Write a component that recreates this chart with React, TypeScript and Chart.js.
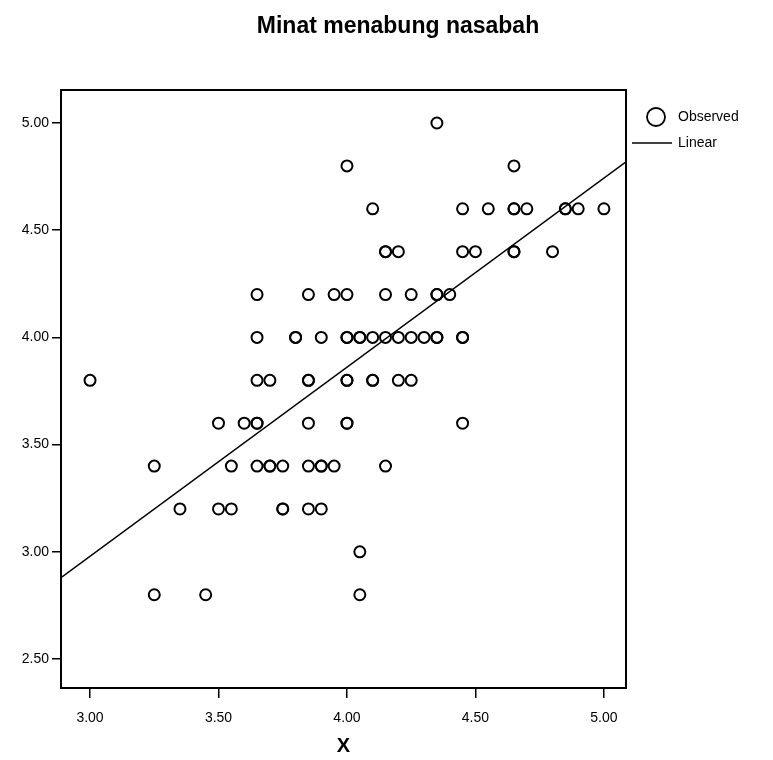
import React, { useEffect, useRef } from "react";
import { Chart, registerables } from "chart.js";

Chart.register(...registerables);

const chartTitle = "Minat menabung nasabah";
const xAxisTitle = "X";
const legendLabels = ["Observed", "Linear"];

// Observed points (x, y); duplicates for overlapping (bold) marks
const observedX = [
  4.35,
  4.0, 4.65,
  4.1, 4.45, 4.55, 4.65, 4.65, 4.7, 4.85, 4.85, 4.9, 5.0,
  4.15, 4.15, 4.2, 4.45, 4.5, 4.65, 4.65, 4.8,
  3.65, 3.85, 3.95, 4.0, 4.15, 4.25, 4.35, 4.35, 4.4,
  3.65, 3.8, 3.8, 3.9, 4.0, 4.0, 4.05, 4.05, 4.1, 4.15, 4.2, 4.25, 4.3, 4.35, 4.35, 4.45, 4.45,
  3.0, 3.65, 3.7, 3.85, 3.85, 4.0, 4.0, 4.1, 4.1, 4.2, 4.25,
  3.5, 3.6, 3.65, 3.65, 3.85, 4.0, 4.0, 4.45,
  3.25, 3.55, 3.65, 3.7, 3.7, 3.75, 3.85, 3.9, 3.9, 3.95, 4.15,
  3.35, 3.5, 3.55, 3.75, 3.75, 3.85, 3.9,
  4.05,
  3.25, 3.45, 4.05,
];
const observedY = [
  5.0,
  4.8, 4.8,
  4.6, 4.6, 4.6, 4.6, 4.6, 4.6, 4.6, 4.6, 4.6, 4.6,
  4.4, 4.4, 4.4, 4.4, 4.4, 4.4, 4.4, 4.4,
  4.2, 4.2, 4.2, 4.2, 4.2, 4.2, 4.2, 4.2, 4.2,
  4.0, 4.0, 4.0, 4.0, 4.0, 4.0, 4.0, 4.0, 4.0, 4.0, 4.0, 4.0, 4.0, 4.0, 4.0, 4.0, 4.0,
  3.8, 3.8, 3.8, 3.8, 3.8, 3.8, 3.8, 3.8, 3.8, 3.8, 3.8,
  3.6, 3.6, 3.6, 3.6, 3.6, 3.6, 3.6, 3.6,
  3.4, 3.4, 3.4, 3.4, 3.4, 3.4, 3.4, 3.4, 3.4, 3.4, 3.4,
  3.2, 3.2, 3.2, 3.2, 3.2, 3.2, 3.2,
  3.0,
  2.8, 2.8, 2.8,
];

// Linear fit
const fitIntercept = 0.333;
const fitSlope = 0.882;

// Axis ranges and ticks
const xMin = 2.887;
const xMax = 5.086;
const yMin = 2.365;
const yMax = 5.154;
const xTicks = [3.0, 3.5, 4.0, 4.5, 5.0];
const yTicks = [2.5, 3.0, 3.5, 4.0, 4.5, 5.0];

const FONT = "'Liberation Sans', Arial, Helvetica, sans-serif";

const framePlugin = {
  id: "framePlugin",
  afterDatasetsDraw(chart: any) {
    const { ctx, chartArea } = chart;
    ctx.save();
    ctx.strokeStyle = "#000";
    ctx.lineWidth = 2;
    ctx.strokeRect(chartArea.left, chartArea.top, chartArea.right - chartArea.left, chartArea.bottom - chartArea.top);
    ctx.restore();
  },
  afterDraw(chart: any) {
    const { ctx } = chart;
    ctx.save();
    // title
    ctx.fillStyle = "#000";
    ctx.font = `bold 23px ${FONT}`;
    ctx.textAlign = "center";
    ctx.textBaseline = "alphabetic";
    ctx.fillText(chartTitle, 398, 33);
    // legend
    ctx.strokeStyle = "#000";
    ctx.lineWidth = 1.8;
    ctx.beginPath();
    ctx.arc(656, 117, 9, 0, Math.PI * 2);
    ctx.stroke();
    ctx.lineWidth = 1.5;
    ctx.beginPath();
    ctx.moveTo(632, 143);
    ctx.lineTo(672, 143);
    ctx.stroke();
    ctx.font = `14px ${FONT}`;
    ctx.textAlign = "left";
    ctx.textBaseline = "middle";
    ctx.fillText(legendLabels[0], 678, 117);
    ctx.fillText(legendLabels[1], 678, 143);
    ctx.restore();
  },
};

export default function App() {
  const canvasRef = useRef<HTMLCanvasElement | null>(null);

  useEffect(() => {
    if (!canvasRef.current) return;
    const points = observedX.map((x, i) => ({ x, y: observedY[i] }));
    const linePts = [xMin, xMax].map((x) => ({ x, y: fitIntercept + fitSlope * x }));
    const chart = new Chart(canvasRef.current, {
      type: "scatter",
      data: {
        datasets: [
          {
            label: legendLabels[0],
            data: points,
            pointStyle: "circle",
            pointRadius: 5.5,
            pointBorderWidth: 2,
            pointBorderColor: "#000",
            pointBackgroundColor: "rgba(0,0,0,0)",
            showLine: false,
          } as any,
          {
            type: "line",
            label: legendLabels[1],
            data: linePts,
            borderColor: "#000",
            borderWidth: 1.5,
            pointRadius: 0,
            fill: false,
          } as any,
        ],
      },
      options: {
        animation: false,
        responsive: false,
        events: [],
        layout: { padding: { top: 90, right: 147, left: 0, bottom: 0 } },
        plugins: {
          legend: { display: false },
          title: { display: false },
          tooltip: { enabled: false },
        },
        scales: {
          x: {
            type: "linear",
            min: xMin,
            max: xMax,
            afterBuildTicks: (scale: any) => {
              scale.ticks = xTicks.map((v) => ({ value: v }));
            },
            afterFit: (scale: any) => {
              scale.height = 72;
            },
            ticks: {
              color: "#000",
              font: { family: FONT, size: 14 },
              padding: 12,
              maxRotation: 0,
              autoSkip: false,
              callback: (v: any) => Number(v).toFixed(2),
            },
            grid: {
              display: true,
              drawOnChartArea: false,
              drawTicks: true,
              tickLength: 10,
              color: "#000",
              lineWidth: 1.5,
            },
            border: { display: true, color: "#000", width: 2 },
            title: {
              display: true,
              text: xAxisTitle,
              color: "#000",
              font: { family: FONT, size: 20, weight: "bold" },
              padding: { top: 0, bottom: 2 },
            },
          },
          y: {
            type: "linear",
            min: yMin,
            max: yMax,
            afterBuildTicks: (scale: any) => {
              scale.ticks = yTicks.map((v) => ({ value: v }));
            },
            afterFit: (scale: any) => {
              scale.width = 61;
            },
            ticks: {
              color: "#000",
              font: { family: FONT, size: 14 },
              padding: 3,
              autoSkip: false,
              callback: (v: any) => Number(v).toFixed(2),
            },
            grid: {
              display: true,
              drawOnChartArea: false,
              drawTicks: true,
              tickLength: 9,
              color: "#000",
              lineWidth: 1.5,
            },
            border: { display: true, color: "#000", width: 2 },
          },
        },
      },
      plugins: [framePlugin],
    } as any);
    return () => chart.destroy();
  }, []);

  return (
    <div style={{ position: "absolute", left: 0, top: 0, width: 773, height: 760, background: "#fff" }}>
      <canvas ref={canvasRef} width={773} height={760} style={{ display: "block" }} />
    </div>
  );
}
